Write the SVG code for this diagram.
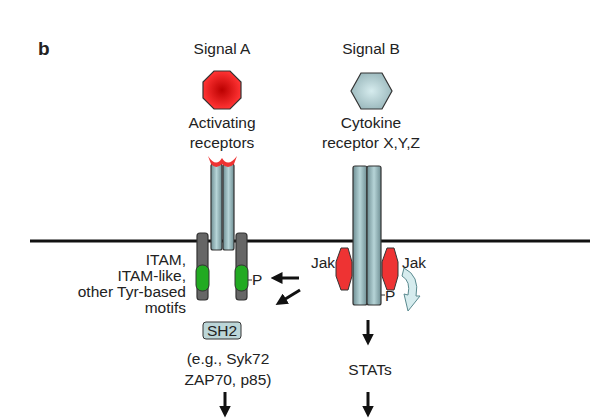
<svg xmlns="http://www.w3.org/2000/svg" width="600" height="419" viewBox="0 0 600 419">
<defs>
<style>
text{font-family:"Liberation Sans",Arial,sans-serif;font-size:15.5px;fill:#222}
.m{text-anchor:middle}.r{text-anchor:end}
.teal{fill:url(#tg);stroke:#333;stroke-width:1.2}
.grey{fill:#666;stroke:#333;stroke-width:1.2}
.grn{fill:#2a2;stroke:#333;stroke-width:1}
.jak{fill:#e33;stroke:#333;stroke-width:1}
.arr{stroke:#111;stroke-width:3;fill:none;marker-end:url(#ah)}
</style>
<linearGradient id="tg" x1="0" x2="1"><stop offset="0" stop-color="#6f8f94"/><stop offset="0.5" stop-color="#b6d4d7"/><stop offset="1" stop-color="#6f8f94"/></linearGradient>
<radialGradient id="rg"><stop offset="0" stop-color="#b00"/><stop offset="1" stop-color="#f33"/></radialGradient>
<radialGradient id="hg"><stop offset="0" stop-color="#d6ecee"/><stop offset="1" stop-color="#9fbcc0"/></radialGradient>
<marker id="ah" markerWidth="4" markerHeight="4" refX="1.5" refY="2" orient="auto"><path d="M0,0L4,2L0,4z" fill="#111"/></marker>
</defs>
<text x="38" y="55" style="font-weight:bold;font-size:19px">b</text>
<line x1="30" y1="241" x2="590" y2="241" stroke="#111" stroke-width="3"/>
<g id="signalA">
<text class="m" x="222" y="54">Signal A</text>
<polygon points="214,71 230,71 241,82 241,98 230,109 214,109 203,98 203,82" fill="url(#rg)" stroke="#333" stroke-width="1.2"/>
<text class="m" x="222" y="128">Activating</text>
<text class="m" x="222" y="148">receptors</text>
</g>
<g id="activating-receptor">
<rect class="grey" x="197" y="233" width="11" height="67" rx="3"/>
<rect class="grey" x="236" y="233" width="11" height="67" rx="3"/>
<rect class="grn" x="196" y="265" width="13" height="26" rx="6"/>
<rect class="grn" x="235" y="265" width="13" height="26" rx="6"/>
<rect class="teal" x="211" y="164" width="11" height="86" rx="2"/>
<rect class="teal" x="223" y="164" width="11" height="86" rx="2"/>
<path d="M208,156 Q216,168 222,158 Q228,168 237,156 L234,164 Q228,170 222,164 Q216,170 211,164 Z" fill="#e33"/>
<line x1="248" y1="280" x2="252" y2="280" stroke="#333"/>
<text x="252" y="285">P</text>
</g>
<g id="itam-label">
<text class="r" x="186" y="265">ITAM,</text>
<text class="r" x="186" y="281">ITAM-like,</text>
<text class="r" x="186" y="297">other Tyr-based</text>
<text class="r" x="186" y="313">motifs</text>
</g>
<g id="sh2">
<rect x="203" y="322" width="38" height="17" rx="3" fill="#bcd6d8" stroke="#333"/>
<text class="m" x="222" y="336">SH2</text>
<text class="m" x="228" y="364">(e.g., Syk72</text>
<text class="m" x="228" y="385">ZAP70, p85)</text>
</g>
<g id="signalB">
<text class="m" x="371" y="54">Signal B</text>
<polygon points="361,73 382,73 392,91 382,109 361,109 351,91" fill="url(#hg)" stroke="#333" stroke-width="1.2"/>
<text class="m" x="371" y="128">Cytokine</text>
<text class="m" x="371" y="148">receptor X,Y,Z</text>
</g>
<g id="cytokine-receptor">
<rect class="teal" x="353" y="166" width="14" height="139" rx="2"/>
<rect class="teal" x="367" y="166" width="14" height="139" rx="2"/>
<polygon class="jak" points="341,248 348,248 352,262 352,276 348,290 341,290 336,276 336,262"/>
<polygon class="jak" points="387,248 394,248 398,262 398,276 394,290 387,290 382,276 382,262"/>
<text class="r" x="335" y="268">Jak</text>
<text x="402" y="268">Jak</text>
<line x1="381" y1="295" x2="385" y2="295" stroke="#333"/>
<text x="385" y="301">P</text>
<path d="M404,268 Q420,276 416,296 L420,296 L408,311 L404,294 L408,295 Q411,281 402,276 Z" fill="#d6ecee" stroke="#5a8a8f" stroke-width="1"/>
<text class="m" x="370" y="375">STATs</text>
</g>
<g id="connectors">
<line class="arr" x1="299" y1="278" x2="278" y2="278"/>
<line class="arr" x1="300" y1="290" x2="282" y2="301"/>
<line class="arr" x1="368" y1="320" x2="368" y2="338"/>
<line class="arr" x1="225" y1="392" x2="225" y2="410"/>
<line class="arr" x1="368" y1="392" x2="368" y2="410"/>
</g>
</svg>
